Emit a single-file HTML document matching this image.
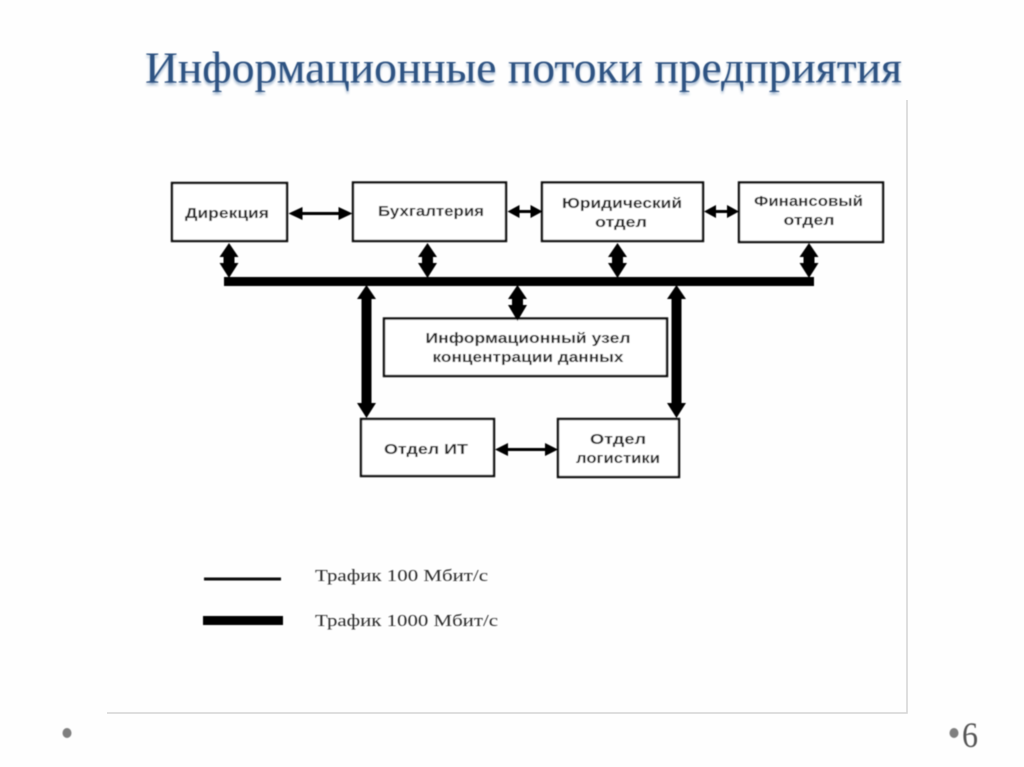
<!DOCTYPE html>
<html lang="ru"><head><meta charset="utf-8"><title>Информационные потоки предприятия</title>
<style>
html,body{margin:0;padding:0;background:#fff;width:1024px;height:767px;overflow:hidden}
svg{display:block}
.b{fill:#fff;stroke:#111;stroke-width:2.400}
.t{font-family:"Liberation Sans",sans-serif;font-size:14.500px;font-weight:bold;fill:#2b2b2b;text-anchor:middle}
.l{font-family:"Liberation Serif",serif;font-size:17px;fill:#2b2b2b}
</style></head><body>
<svg width="1024" height="767" viewBox="0 0 1024 767" xmlns="http://www.w3.org/2000/svg">
<defs>
<filter id="soft"><feGaussianBlur stdDeviation="0.450"/></filter>
<filter id="soft2" x="-5%" y="-30%" width="110%" height="170%"><feGaussianBlur stdDeviation="1.300"/></filter>
</defs>
<rect width="1024" height="767" fill="#fefefe"/>
<path d="M907 100V713H107" fill="none" stroke="#d4d4d4" stroke-width="1.500"/>
<text x="145" y="85" font-family="Liberation Serif,serif" font-size="44" textLength="757" lengthAdjust="spacingAndGlyphs" fill="#6b8cb3" opacity=".6" filter="url(#soft2)">Информационные потоки предприятия</text>
<text x="145" y="82.500" font-family="Liberation Serif,serif" font-size="44" textLength="757" lengthAdjust="spacingAndGlyphs" fill="#2f5382" filter="url(#soft)">Информационные потоки предприятия</text>
<g filter="url(#soft)">
<rect class="b" x="172" y="183" width="115" height="58"/>
<rect class="b" x="353" y="182.500" width="153" height="58.500"/>
<rect class="b" x="542" y="182.500" width="161" height="58.500"/>
<rect class="b" x="739" y="182.500" width="144" height="59.500"/>
<rect class="b" x="384" y="318.500" width="283" height="57.500"/>
<rect class="b" x="361" y="419" width="133" height="57"/>
<rect class="b" x="558" y="419" width="121" height="58"/>
<rect x="224" y="277" width="590" height="9" fill="#000"/>
<g fill="#000">
<path d="M229 243l9.500 14h-4v6h4l-9.500 15-9.500-15h4v-6h-4z"/>
<path d="M427.500 243l9.500 14h-4v6h4l-9.500 15-9.500-15h4v-6h-4z"/>
<path d="M617.500 243l9.500 14h-4v6h4l-9.500 15-9.500-15h4v-6h-4z"/>
<path d="M809 243l9.500 14h-4v6h4l-9.500 15-9.500-15h4v-6h-4z"/>
<path d="M517.500 285l9.500 14h-4v6h4l-9.500 16-9.500-16h4v-6h-4z"/>
<path d="M366.500 285l9.500 14h-4.500v104h4.500l-9.500 15-9.500-15h4.500v-104h-4.500z"/>
<path d="M676.500 285l9.500 14h-4.500v104h4.500l-9.500 15-9.500-15h4.500v-104h-4.500z"/>
<path d="M288.500 213.500l14-6.500v5h36v-5l14 6.500-14 6.500v-5h-36v5z"/>
<path d="M507.500 211.500l12-6.500v5h11v-5l12 6.500-12 6.500v-5h-11v5z"/>
<path d="M704 211.500l12-6.500v5h11v-5l12 6.500-12 6.500v-5h-11v5z"/>
<path d="M495 449.500l13-6.500v5h37v-5l13 6.500-13 6.500v-5h-37v5z"/>
</g>
<rect x="204" y="577.500" width="77" height="3" fill="#111"/>
<rect x="203" y="616" width="80" height="9" fill="#000"/>
<text class="t" x="227" y="218" textLength="84" lengthAdjust="spacingAndGlyphs">Дирекция</text>
<text class="t" x="431" y="216" textLength="106" lengthAdjust="spacingAndGlyphs">Бухгалтерия</text>
<text class="t" x="622" y="208" textLength="120" lengthAdjust="spacingAndGlyphs">Юридический</text>
<text class="t" x="621" y="227" textLength="52" lengthAdjust="spacingAndGlyphs">отдел</text>
<text class="t" x="808.500" y="206" textLength="109" lengthAdjust="spacingAndGlyphs">Финансовый</text>
<text class="t" x="809" y="225" textLength="51" lengthAdjust="spacingAndGlyphs">отдел</text>
<text class="t" x="528" y="343" textLength="205" lengthAdjust="spacingAndGlyphs">Информационный узел</text>
<text class="t" x="528" y="362" textLength="191" lengthAdjust="spacingAndGlyphs">концентрации данных</text>
<text class="t" x="426" y="454" textLength="84" lengthAdjust="spacingAndGlyphs">Отдел ИТ</text>
<text class="t" x="618" y="444" textLength="56" lengthAdjust="spacingAndGlyphs">Отдел</text>
<text class="t" x="618" y="463" textLength="84" lengthAdjust="spacingAndGlyphs">логистики</text>
<text class="l" x="315" y="581" textLength="173" lengthAdjust="spacingAndGlyphs">Трафик 100 Мбит/с</text>
<text class="l" x="315" y="626" textLength="183" lengthAdjust="spacingAndGlyphs">Трафик 1000 Мбит/с</text>
<ellipse cx="67" cy="733" rx="4.500" ry="5" fill="#7f7f7f"/>
<ellipse cx="954" cy="733" rx="4.500" ry="5" fill="#7f7f7f"/>
<text x="962" y="747" font-family="Liberation Serif,serif" font-size="36" textLength="16" lengthAdjust="spacingAndGlyphs" fill="#555">6</text>
</g>
</svg>
</body></html>
